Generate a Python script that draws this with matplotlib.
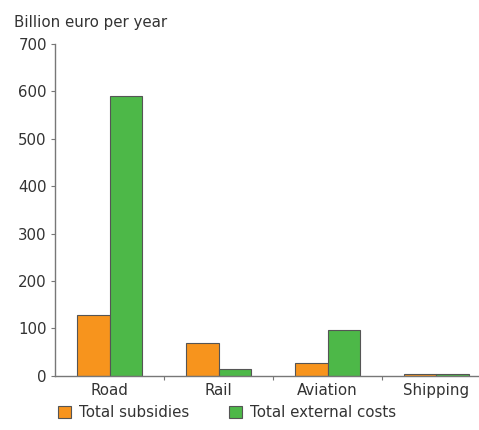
import numpy as np
import matplotlib.pyplot as plt
from matplotlib.patches import Patch

categories = ['Road', 'Rail', 'Aviation', 'Shipping']
subsidies = [129, 70, 27, 4]
external_costs = [590, 15, 97, 4]

orange = '#F7941D'
green = '#4DB848'
edge = '#555555'
axis_col = '#777777'
text_col = '#333333'
fs = 10.8

fig = plt.figure(figsize=(4.79, 4.30), dpi=100)
ax = fig.add_axes([0.115, 0.126, 0.885, 0.772])

x = np.arange(len(categories))
w = 0.295
ax.bar(x - w / 2, subsidies, w, color=orange, edgecolor=edge, linewidth=0.8, zorder=3)
ax.bar(x + w / 2, external_costs, w, color=green, edgecolor=edge, linewidth=0.8, zorder=3)

ax.set_xlim(-0.5, 3.39)
ax.set_ylim(0, 700)
ax.set_yticks(range(0, 701, 100))
ax.tick_params(axis='y', labelsize=fs, labelcolor=text_col, color=axis_col,
               length=3, width=0.8, pad=3)

# category labels under the bars, tick marks between groups
ax.set_xticks(x[:-1] + 0.5)
ax.set_xticklabels([])
ax.tick_params(axis='x', length=3, width=0.8, color=axis_col)
ax.set_xticks(x, minor=True)
ax.set_xticklabels(categories, minor=True)
ax.tick_params(axis='x', which='minor', length=0, labelsize=fs, labelcolor=text_col, pad=5)

for side in ['top', 'right']:
    ax.spines[side].set_visible(False)
for side in ['left', 'bottom']:
    ax.spines[side].set_color(axis_col)
    ax.spines[side].set_linewidth(1.0)
ax.spines['bottom'].set_zorder(4)

fig.text(0.03, 0.948, 'Billion euro per year', fontsize=fs, color=text_col, va='center')

handles = [Patch(facecolor=orange, edgecolor=edge, linewidth=0.8),
           Patch(facecolor=green, edgecolor=edge, linewidth=0.8)]
fig.legend(handles, ['Total subsidies', 'Total external costs'],
           loc='center left', bbox_to_anchor=(0.092, 0.04), ncol=2, frameon=False,
           fontsize=fs, handlelength=0.9, handleheight=0.9, columnspacing=2.6,
           handletextpad=0.55, labelcolor=text_col)

fig.savefig('out.png', dpi=100)
